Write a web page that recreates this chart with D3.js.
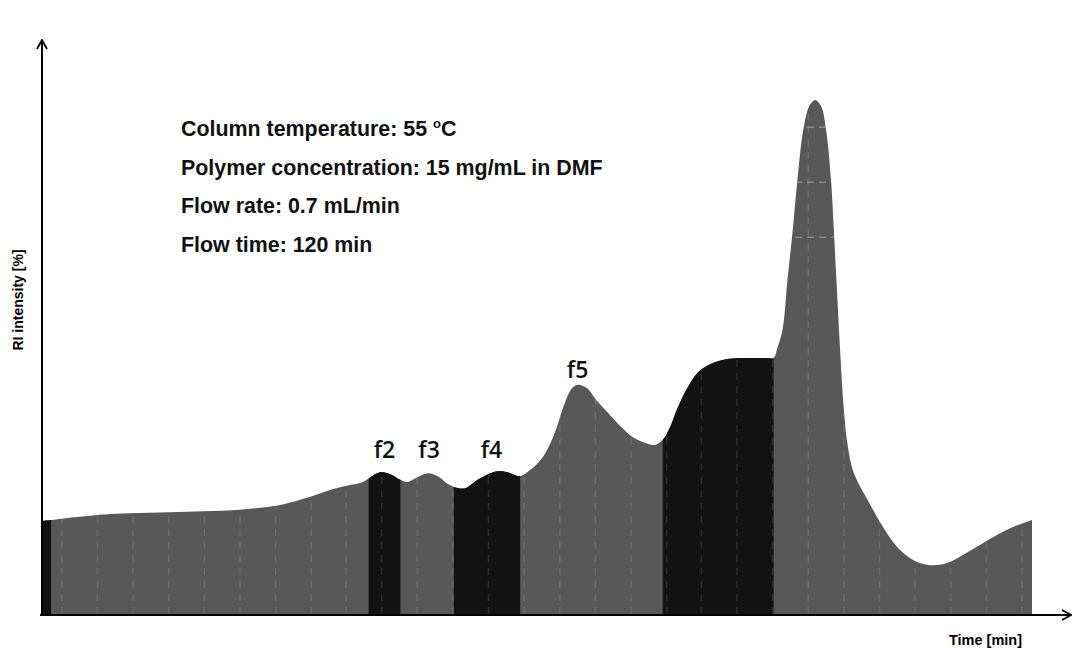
<!DOCTYPE html>
<html>
<head>
<meta charset="utf-8">
<script src="https://cdn.jsdelivr.net/npm/d3@7"></script>
<style>
  html, body { margin: 0; padding: 0; background: #fff; }
  svg { display: block; }
</style>
</head>
<body>
<div id="chart"></div>
<script>
// elution time (normalised 0-100) and RI intensity (% of main peak)
const times = [0, 1.8, 5.9, 8.9, 12.9, 16.3, 20.0, 22.3, 24.3, 27.1, 29.4, 31.1, 32.3, 33.1, 34.1, 35.2,
  36.2, 36.9, 38.0, 39.0, 40.0, 41.0, 42.0, 42.8, 44.0, 45.3, 46.3, 47.3, 48.3, 49.3, 50.3, 51.1,
  51.9, 52.8, 53.5, 54.1, 55.0, 56.0, 57.1, 58.4, 59.7, 60.9, 61.9, 62.7, 63.4, 64.2, 65.2, 66.2,
  67.5, 69.2, 71.5, 73.2, 73.9, 74.3, 74.8, 75.3, 75.8, 76.3, 76.9, 77.5, 78.1, 78.7, 79.2, 79.7,
  80.0, 80.3, 80.6, 81.0, 81.4, 81.9, 82.4, 83.4, 84.7, 86.4, 88.0, 89.7, 91.4, 93.4, 96.5, 98.3, 100];
const intensity = [18.1, 18.5, 19.3, 19.6, 19.8, 20.0, 20.3, 20.7, 21.3, 22.8, 24.3, 25.1, 25.6, 26.5, 27.6, 27.2,
  26.1, 25.7, 26.7, 27.4, 26.8, 25.3, 24.5, 24.5, 26.1, 27.4, 27.8, 27.4, 26.8, 28.0, 29.8, 32.2,
  35.8, 41.0, 43.8, 44.6, 44.0, 41.6, 39.3, 36.6, 34.4, 33.3, 32.9, 33.9, 36.2, 40.1, 44.0, 46.9,
  48.6, 49.6, 49.8, 49.8, 49.8, 51.9, 55.3, 65.0, 74.1, 84.4, 94.2, 98.8, 100, 98.8, 94.2, 84.4,
  74.1, 63.0, 51.9, 39.7, 32.5, 28.0, 25.7, 22.2, 17.7, 13.0, 10.5, 9.5, 9.9, 11.9, 15.4, 17.1, 18.3];

// collected fractions (dark bands)
const fracStart = [0, 33.0, 41.6, 62.7];
const fracEnd = [0.9, 36.2, 48.3, 73.9];

// fraction labels
const labelNames = ['f2', 'f3', 'f4', 'f5'];
const labelTimes = [34.6, 39.1, 45.4, 54.1];
const labelLevels = [30.4, 30.4, 30.4, 45.9];

// dashed grid of the instrument trace
const gridTimes = [2.0, 5.6, 9.2, 12.8, 16.4, 20.0, 23.6, 27.2, 30.7, 34.3, 37.9, 41.5, 45.1, 48.7,
  52.3, 55.9, 59.5, 63.1, 66.6, 70.2, 73.8, 77.4, 81.0, 84.6, 88.2, 91.8, 95.4, 99.0];
const gridLevels = [73.3, 84.0, 94.7];

const conditions = [
  ['Column temperature: 55 ', 'o', 'C'],
  ['Polymer concentration: 15 mg/mL in DMF'],
  ['Flow rate: 0.7 mL/min'],
  ['Flow time: 120 min']
];

const W = 1073, H = 651;
const data = times.map((t, i) => ({ t, v: intensity[i] }));

const x = d3.scaleLinear().domain([0, 100]).range([42, 1032]);
const y = d3.scaleLinear().domain([0, 100]).range([614, 100]);

const svg = d3.select('#chart').append('svg')
  .attr('width', W)
  .attr('height', H);

const defs = svg.append('defs');

const area = d3.area()
  .x(d => x(d.t))
  .y0(y(0))
  .y1(d => y(d.v))
  .curve(d3.curveCatmullRom.alpha(0.5));

defs.append('clipPath').attr('id', 'trace-clip')
  .append('path')
  .attr('d', area(data));

fracStart.forEach((s, i) => {
  defs.append('clipPath').attr('id', 'frac-' + i)
    .append('rect')
    .attr('x', x(s))
    .attr('y', 0)
    .attr('width', x(fracEnd[i]) - x(s))
    .attr('height', H);
});

defs.append('marker')
  .attr('id', 'arrow')
  .attr('viewBox', '0 0 12 12')
  .attr('refX', 11)
  .attr('refY', 6)
  .attr('markerWidth', 12)
  .attr('markerHeight', 12)
  .attr('markerUnits', 'userSpaceOnUse')
  .attr('orient', 'auto')
  .append('path')
  .attr('d', 'M2,1 L11,6 L2,11')
  .attr('fill', 'none')
  .attr('stroke', '#000')
  .attr('stroke-width', 1.8);

// Grey trace
svg.append('path')
  .attr('d', area(data))
  .attr('fill', '#585858');

// Dark fractions
fracStart.forEach((s, i) => {
  svg.append('path')
    .attr('d', area(data))
    .attr('clip-path', `url(#frac-${i})`)
    .attr('fill', '#121212');
});

// Dashed grid, visible only inside the trace
const grid = svg.append('g').attr('clip-path', 'url(#trace-clip)');
grid.selectAll('line.v')
  .data(gridTimes)
  .enter()
  .append('line')
  .attr('class', 'v')
  .attr('x1', d => x(d))
  .attr('x2', d => x(d))
  .attr('y1', y(100))
  .attr('y2', y(0))
  .attr('stroke', 'rgba(255,255,255,0.12)')
  .attr('stroke-width', 1.5)
  .attr('stroke-dasharray', '7,6');
grid.selectAll('line.h')
  .data(gridLevels)
  .enter()
  .append('line')
  .attr('class', 'h')
  .attr('x1', x(70))
  .attr('x2', x(90))
  .attr('y1', d => y(d))
  .attr('y2', d => y(d))
  .attr('stroke', 'rgba(255,255,255,0.3)')
  .attr('stroke-width', 1.5)
  .attr('stroke-dasharray', '7,5');

// Axes with open arrow heads
svg.append('line')
  .attr('x1', 40).attr('y1', 615)
  .attr('x2', 1071).attr('y2', 615)
  .attr('stroke', '#000')
  .attr('stroke-width', 2)
  .attr('marker-end', 'url(#arrow)');

svg.append('line')
  .attr('x1', 42).attr('y1', 616)
  .attr('x2', 42).attr('y2', 40)
  .attr('stroke', '#000')
  .attr('stroke-width', 2)
  .attr('marker-end', 'url(#arrow)');

// Axis titles
svg.append('text')
  .attr('x', 1022)
  .attr('y', 645)
  .attr('text-anchor', 'end')
  .style('font-family', '"Liberation Sans", Arial, sans-serif')
  .style('font-weight', 'bold')
  .style('font-size', '14.5px')
  .style('fill', '#000')
  .text('Time [min]');

svg.append('text')
  .attr('transform', 'translate(23,300) rotate(-90)')
  .attr('text-anchor', 'middle')
  .style('font-family', '"Liberation Sans", Arial, sans-serif')
  .style('font-weight', 'bold')
  .style('font-size', '14px')
  .style('fill', '#000')
  .text('RI intensity [%]');

// Run conditions
const cond = svg.append('g')
  .style('font-family', '"Liberation Sans", Arial, sans-serif')
  .style('font-weight', 'bold')
  .style('font-size', '21.4px')
  .style('fill', '#111');

conditions.forEach((parts, i) => {
  const t = cond.append('text')
    .attr('x', 181)
    .attr('y', 136 + i * 38.5);
  t.append('tspan').text(parts[0]);
  if (parts.length > 1) {
    t.append('tspan')
      .attr('dy', -8)
      .style('font-size', '13px')
      .text(parts[1]);
    t.append('tspan')
      .attr('dy', 8)
      .text(parts[2]);
  }
});

// Fraction labels
svg.selectAll('text.frac')
  .data(labelNames)
  .enter()
  .append('text')
  .attr('class', 'frac')
  .attr('x', (d, i) => x(labelTimes[i]))
  .attr('y', (d, i) => y(labelLevels[i]))
  .attr('text-anchor', 'middle')
  .style('font-family', '"Open Sans", sans-serif')
  .style('font-weight', '600')
  .style('font-size', '23px')
  .style('fill', '#111')
  .text(d => d);
</script>
</body>
</html>
